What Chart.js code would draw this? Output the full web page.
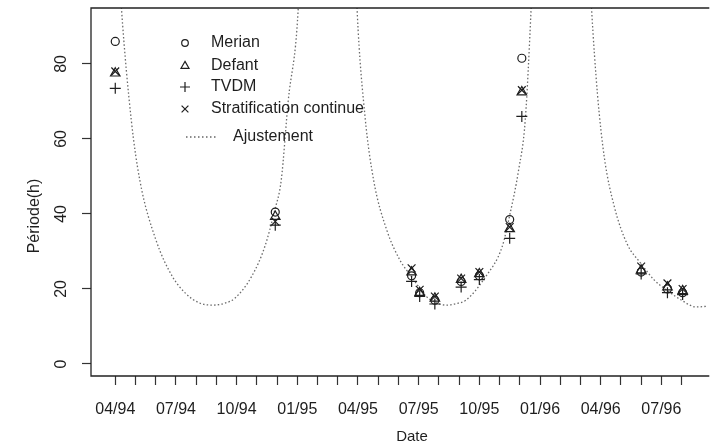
<!DOCTYPE html>
<html lang="fr">
<head>
    <meta charset="UTF-8">
    <title>Période - Ajustement</title>
    <script src="https://cdn.jsdelivr.net/npm/chart.js"></script>
    <style>
        body { margin: 0; background: #fff; }
        #wrap { width: 714px; height: 445px; }
    </style>
</head>
<body>
    <div id="wrap"><canvas id="periodChart" width="714" height="445"></canvas></div>

    <script>
        // months counted from 04/94 (= 0)
        const tickMonths = [0, 1, 2, 3, 4, 5, 6, 7, 8, 9, 10, 11, 12, 13, 14, 15, 16, 17, 18, 19, 20, 21, 22, 23, 24, 25, 26, 27, 28];
        const tickLabels = ['04/94', '07/94', '10/94', '01/95', '04/95', '07/95', '10/95', '01/96', '04/96', '07/96'];
        const yTicks = [0, 20, 40, 60, 80];

        // observation dates (months since 04/94)
        const obsMonths = [0.0, 7.91, 14.65, 15.05, 15.8, 17.1, 18.0, 19.5, 20.1, 26.0, 27.3, 28.05];
        const merian = [86, 40.5, 23.5, 19, 17, 22, 23.5, 38.5, 81.5, 24.5, 20, 19];
        const defant = [77.5, 39.3, 24.5, 19, 17.5, 22.5, 24, 36, 72.5, 25, 20.5, 19.5];
        const tvdm = [73.5, 37, 22, 18, 16, 20.5, 22.5, 33.5, 66, 24, 19, 18.5];
        const strat = [78, 38, 25.5, 19.8, 18, 22.8, 24.5, 36.5, 73, 26, 21.5, 20];

        // fitted curve (null = break)
        const fitMonths = [0.25, 0.303, 0.792, 1.213, 2.015, 2.826, 3.482, 4.147, 4.782, 5.418, 5.907, 6.738, 7.394, 7.883, 8.205, 8.548, 9.037, 9.08,
            10.5,
            11.92, 11.956, 12.347, 12.773, 13.423, 14.073, 14.645, 15.379, 15.868, 16.357, 16.846, 17.335, 18.313, 19.130, 19.487, 19.941, 20.269, 20.562, 20.6,
            22.0,
            23.5, 23.545, 23.839, 24.181, 24.670, 25.306, 25.990, 26.626, 27.262, 27.995, 28.729, 29.3];
        const fitValues = [100, 95, 65, 49, 33, 23.3, 18.8, 16.3, 15.7, 16.2, 17.5, 23.3, 31.3, 41, 49, 70, 94, 100,
            null,
            100, 94.4, 66, 49, 35.7, 27.7, 23.3, 18, 16.3, 15.7, 16.1, 17, 23.3, 31.3, 39.3, 51.7, 65, 95, 100,
            null,
            100, 95, 72, 55, 42, 32, 26.8, 22.5, 19.7, 17, 15.2, 15.4];

        const font = 'Liberation Sans, Arial, Helvetica, sans-serif';
        const ink = '#1e1e1e';

        const toPoints = (xs, ys) => xs.map((x, i) => ({ x: x, y: ys[i] }));

        const series = [
            { label: 'Merian', data: merian, pointStyle: 'circle', radius: 4, legendRadius: 3.3 },
            { label: 'Defant', data: defant, pointStyle: 'triangle', radius: 5.5, legendRadius: 4.6 },
            { label: 'TVDM', data: tvdm, pointStyle: 'cross', radius: 5.5, legendRadius: 5 },
            { label: 'Stratification continue', data: strat, pointStyle: 'crossRot', radius: 5.5, legendRadius: 4.8 }
        ];

        const decor = {
            id: 'decor',
            afterDraw(chart) {
                const ctx = chart.ctx;
                const a = chart.chartArea;
                const y = chart.scales.y;
                ctx.save();
                // box
                ctx.strokeStyle = '#222';
                ctx.lineWidth = 1.3;
                ctx.beginPath();
                ctx.moveTo(a.right + 2, a.top);
                ctx.lineTo(a.left, a.top);
                ctx.lineTo(a.left, a.bottom);
                ctx.lineTo(a.right + 2, a.bottom);
                ctx.stroke();

                // y tick labels, rotated like R
                ctx.fillStyle = ink;
                ctx.font = '16px ' + font;
                ctx.textAlign = 'center';
                ctx.textBaseline = 'middle';
                y.ticks.forEach(t => {
                    ctx.save();
                    ctx.translate(62, y.getPixelForValue(t.value));
                    ctx.rotate(-Math.PI / 2);
                    ctx.fillText(String(t.value), 0, 0);
                    ctx.restore();
                });

                // axis titles
                ctx.save();
                ctx.translate(35, 216);
                ctx.rotate(-Math.PI / 2);
                ctx.fillText('Période(h)', 0, 0);
                ctx.restore();
                ctx.font = '15px ' + font;
                ctx.fillText('Date', 412, 437);

                // legend
                ctx.font = '16px ' + font;
                ctx.textAlign = 'left';
                const rows = [43, 66, 87, 109];
                series.forEach((s, i) => {
                    ctx.strokeStyle = ink;
                    ctx.fillStyle = 'rgba(0,0,0,0)';
                    ctx.lineWidth = 1.2;
                    Chart.helpers.drawPoint(ctx, {
                        pointStyle: s.pointStyle,
                        radius: s.legendRadius,
                        borderWidth: 1.2,
                        rotation: 0
                    }, 185, rows[i]);
                    ctx.fillStyle = ink;
                    ctx.fillText(s.label, 211, rows[i]);
                });
                ctx.strokeStyle = '#666';
                ctx.lineWidth = 1.3;
                ctx.setLineDash([1.5, 2.5]);
                ctx.beginPath();
                ctx.moveTo(186, 137);
                ctx.lineTo(216, 137);
                ctx.stroke();
                ctx.setLineDash([]);
                ctx.fillText('Ajustement', 233, 137);
                ctx.restore();
            }
        };

        const datasets = series.map(s => ({
            label: s.label,
            data: toPoints(obsMonths, s.data),
            showLine: false,
            pointStyle: s.pointStyle,
            pointRadius: s.radius,
            pointBorderWidth: 1.2,
            pointBorderColor: ink,
            pointBackgroundColor: 'rgba(0,0,0,0)',
            order: 1
        }));

        datasets.push({
            label: 'Ajustement',
            data: toPoints(fitMonths, fitValues),
            showLine: true,
            spanGaps: false,
            borderColor: '#6a6a6a',
            borderWidth: 1.3,
            borderDash: [1.5, 2.2],
            pointRadius: 0,
            cubicInterpolationMode: 'monotone',
            order: 10
        });

        new Chart(document.getElementById('periodChart').getContext('2d'), {
            type: 'scatter',
            data: { datasets: datasets },
            options: {
                responsive: false,
                animation: false,
                devicePixelRatio: 1,
                layout: { padding: { top: 8, right: 0, left: 0, bottom: 0 } },
                plugins: {
                    legend: { display: false },
                    tooltip: { enabled: false }
                },
                scales: {
                    x: {
                        type: 'linear',
                        min: -1.2,
                        max: 29.27,
                        afterBuildTicks: scale => { scale.ticks = tickMonths.map(v => ({ value: v })); },
                        afterFit: scale => { scale.height = 69; },
                        ticks: {
                            autoSkip: false,
                            maxRotation: 0,
                            minRotation: 0,
                            padding: 15,
                            color: ink,
                            font: { size: 16, family: font },
                            callback: v => (v % 3 === 0 ? tickLabels[v / 3] : '')
                        },
                        grid: {
                            drawOnChartArea: false,
                            tickLength: 9,
                            tickColor: '#333',
                            tickWidth: 1.2
                        },
                        border: { display: false }
                    },
                    y: {
                        min: -3.2,
                        max: 94.9,
                        afterBuildTicks: scale => { scale.ticks = yTicks.map(v => ({ value: v })); },
                        afterFit: scale => { scale.width = 91; },
                        ticks: { display: false },
                        grid: {
                            drawOnChartArea: false,
                            tickLength: 9,
                            tickColor: '#333',
                            tickWidth: 1.2
                        },
                        border: { display: false }
                    }
                }
            },
            plugins: [decor]
        });
    </script>
</body>
</html>
